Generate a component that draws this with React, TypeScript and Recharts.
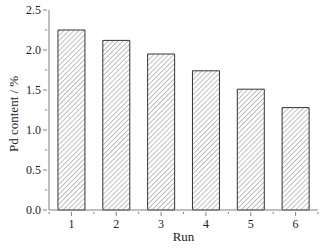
import { BarChart, Bar, XAxis, YAxis } from "recharts"

const runs = ["1", "2", "3", "4", "5", "6"]
const pdContent = [2.25, 2.12, 1.95, 1.74, 1.51, 1.28]
const yTicks = [0, 0.25, 0.5, 0.75, 1, 1.25, 1.5, 1.75, 2, 2.25, 2.5]

const data = runs.map((run, i) => ({ run, pd: pdContent[i] }))

const FONT = "'Liberation Serif', 'Times New Roman', serif"
const AXIS = "#808080"

const YTick = (props: any) => {
  const { x, y, payload } = props
  const v = payload.value as number
  const major = Math.abs(v * 2 - Math.round(v * 2)) < 1e-6
  return (
    <g>
      <line x1={x - (major ? 4 : 2)} x2={x} y1={y} y2={y} stroke={AXIS} />
      {major && (
        <text x={x - 6} y={y} dy={4} textAnchor="end" fontSize={12} fontFamily={FONT} fill="#222">
          {v.toFixed(1)}
        </text>
      )}
    </g>
  )
}

const XTick = (props: any) => {
  const { x, y, payload, index } = props
  const half = payload.offset || 22.4
  return (
    <g>
      <line x1={x} x2={x} y1={y} y2={y + 4} stroke={AXIS} />
      <line x1={x - half} x2={x - half} y1={y} y2={y + 2} stroke={AXIS} />
      {index === runs.length - 1 && <line x1={x + half} x2={x + half} y1={y} y2={y + 2} stroke={AXIS} />}
      <text x={x} y={y + 16} textAnchor="middle" fontSize={12} fontFamily={FONT} fill="#222">
        {payload.value}
      </text>
    </g>
  )
}

export default function App() {
  return (
    <div style={{ position: "absolute", left: 0, top: 0, background: "#fff" }}>
      <svg width={0} height={0} style={{ position: "absolute" }}>
        <defs>
          <pattern id="hatch" patternUnits="userSpaceOnUse" width={3.5} height={3.5} patternTransform="rotate(45)">
            <rect width={3.5} height={3.5} fill="#fff" />
            <line x1={0} y1={0} x2={0} y2={3.5} stroke="#8a8a8a" strokeWidth={1.1} />
          </pattern>
        </defs>
      </svg>
      <BarChart
        width={326}
        height={250}
        data={data}
        margin={{ top: 10, right: 8, left: 0, bottom: 0 }}
        barCategoryGap="20%"
      >
        <XAxis
          dataKey="run"
          height={40}
          stroke={AXIS}
          tickLine={false}
          tickSize={0}
          tick={<XTick />}
          label={{ value: "Run", position: "insideBottom", offset: 9, fontSize: 13, fontFamily: FONT, fill: "#222" }}
        />
        <XAxis xAxisId="top" orientation="top" dataKey="run" height={0} stroke={AXIS} tick={false} tickLine={false} />
        <YAxis
          width={49}
          domain={[0, 2.5]}
          ticks={yTicks}
          interval={0}
          stroke={AXIS}
          tickLine={false}
          tickSize={0}
          tick={<YTick />}
          label={{ value: "Pd content / %", angle: -90, position: "insideLeft", offset: 13, dy: 42, fontSize: 13, fontFamily: FONT, fill: "#222" }}
        />
        <YAxis yAxisId="right" orientation="right" width={0} domain={[0, 2.5]} stroke={AXIS} tick={false} tickLine={false} />
        <Bar dataKey="pd" fill="url(#hatch)" stroke="#333" strokeWidth={1} isAnimationActive={false} />
      </BarChart>
    </div>
  )
}
